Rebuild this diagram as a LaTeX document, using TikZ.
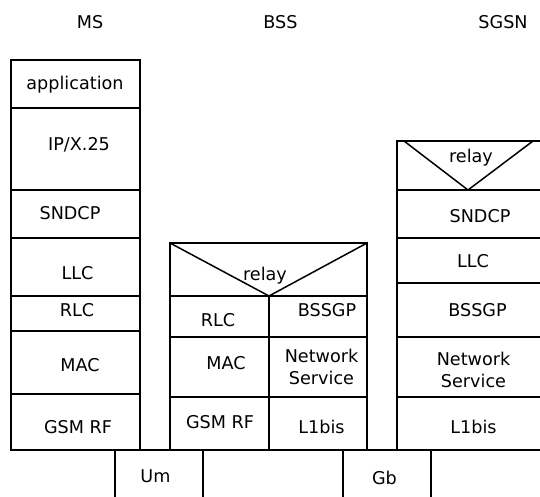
\documentclass[tikz,border=0pt]{standalone}
\usepackage{fontspec}
\setmainfont{DejaVu Sans}
\begin{document}
\begin{tikzpicture}[x=1pt,y=-1pt,
  line width=1.5pt,
  lbl/.style={inner sep=0pt,font=\fontsize{17.6}{21}\selectfont,text height=13pt,text depth=0pt},
  lbl2/.style={inner sep=0pt,font=\fontsize{17.6}{22.5}\selectfont,align=center}]
\useasboundingbox (0,0) rectangle (540,497);

% titles
\node[lbl] (tms)   at (90,22.5)  {MS};
\node[lbl] (tbss)  at (280.5,22.5) {BSS};
\node[lbl] (tsgsn) at (503,22.5) {SGSN};

% MS stack
\draw (11,60) rectangle (140,450);
\foreach \y in {108,190,238,296,331,394} \draw (11,\y) -- (140,\y);
\node[lbl] (ms1) at (75,83)   {application};
\node[lbl] (ms2) at (79,144)  {IP/X.25};
\node[lbl] (ms3) at (70,213)  {SNDCP};
\node[lbl] (ms4) at (77.5,273) {LLC};
\node[lbl] (ms5) at (77,310)  {RLC};
\node[lbl] (ms6) at (80,365)  {MAC};
\node[lbl] (ms7) at (78,427)  {GSM RF};

% BSS stack
\draw (170,243) rectangle (367,450);
\draw (170,296) -- (367,296);
\draw (269,296) -- (269,450);
\draw (170,337) -- (367,337);
\draw (170,397) -- (367,397);
\draw (170,243) -- (269,296) -- (367,243);
\node[lbl] (b0) at (265,274) {relay};
\node[lbl] (b1) at (218,320) {RLC};
\node[lbl] (b2) at (226,363) {MAC};
\node[lbl] (b3) at (220,422) {GSM RF};
\node[lbl] (b4) at (327,310) {BSSGP};
\node[lbl2] (b5) at (321.5,367) {Network\\Service};
\node[lbl] (b6) at (321.5,427) {L1bis};

% SGSN stack
\draw (397,450) -- (397,141) -- (542,141);
\foreach \y in {190,238,283,337,397} \draw (397,\y) -- (542,\y);
\draw (404,141) -- (468,190) -- (533,141);
\node[lbl] (s0) at (471,156)   {relay};
\node[lbl] (s1) at (480,216)   {SNDCP};
\node[lbl] (s2) at (473,260.5) {LLC};
\node[lbl] (s3) at (477.5,310) {BSSGP};
\node[lbl2] (s4) at (473.5,370) {Network\\Service};
\node[lbl] (s5) at (473.5,427) {L1bis};

% interfaces
\draw (11,450) -- (542,450);
\draw (115,450) -- (115,500);
\draw (203,450) -- (203,500);
\draw (343,450) -- (343,500);
\draw (431,450) -- (431,500);
\node[lbl] (um) at (155.5,476) {Um};
\node[lbl] (gb) at (384.5,478) {Gb};
\end{tikzpicture}
\end{document}
